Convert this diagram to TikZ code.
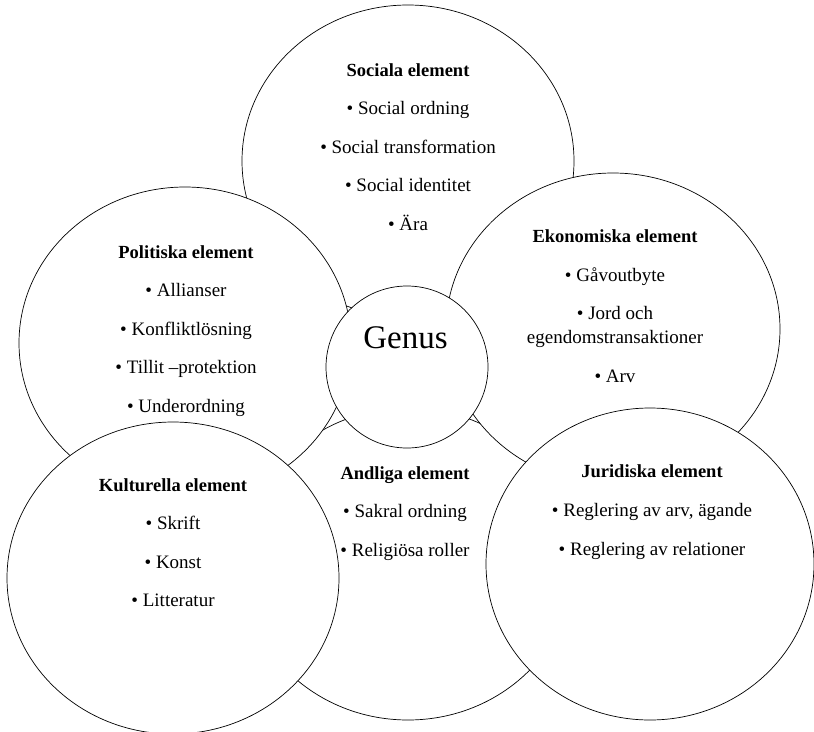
\documentclass[tikz,border=0pt]{standalone}
\usepackage{fontspec}
\setmainfont{Liberation Serif}
\usetikzlibrary{shapes.geometric}

\tikzset{
  bubbla/.style={ellipse, draw, fill=white, line width=0.7pt, inner sep=0pt,
    minimum width=332pt, minimum height=312pt},
  rubrik/.style={anchor=base, inner sep=0pt, font=\bfseries\fontsize{18.5}{22}\selectfont},
  punkt/.style={anchor=base, inner sep=0pt, font=\fontsize{19}{23}\selectfont},
}

\begin{document}
\begin{tikzpicture}[x=1pt,y=-1pt]
\useasboundingbox (0,0) rectangle (814,731);
% bubblorna, bakifraan och fram
\node[bubbla] (soc) at (408,161) {};
\node[bubbla] (andl) at (408,564) {};
\node[bubbla] (pol) at (185,343) {};
\node[bubbla, minimum width=334pt] (eko) at (613,329) {};
\node[bubbla] (kul) at (173,578) {};
\node[bubbla, minimum width=328pt] (jur) at (650,564) {};
\node[circle, draw, fill=white, line width=0.7pt, inner sep=0pt, minimum size=162pt] (genus) at (407,367) {};
\node[anchor=base, inner sep=0pt, font=\fontsize{33}{40}\selectfont] (genus-text) at (405.5,348.7) {Genus};

% sociala
\node[rubrik] (soc-rubrik) at (408,76) {Sociala element};
\foreach \txt [count=\i] in {Social ordning, Social transformation, Social identitet, Ära}
  \node[punkt] (soc-\i) at (408,{76+38.5*\i}) {• \txt};

% politiska
\node[rubrik] (pol-rubrik) at (186,258) {Politiska element};
\foreach \txt [count=\i] in {Allianser, Konfliktlösning, Tillit –protektion, Underordning}
  \node[punkt] (pol-\i) at (186,{258+38.5*\i}) {• \txt};

% ekonomiska
\node[rubrik] (eko-rubrik) at (615,242) {Ekonomiska element};
\node[punkt] (eko-1) at (615,281) {• Gåvoutbyte};
\node[punkt] (eko-2) at (615,319.3) {• Jord och};
\node[punkt] (eko-2b) at (615,343.3) {egendomstransaktioner};
\node[punkt] (eko-3) at (615,382.7) {• Arv};

% kulturella
\node[rubrik] (kul-rubrik) at (173,491) {Kulturella element};
\foreach \txt [count=\i] in {Skrift, Konst, Litteratur}
  \node[punkt] (kul-\i) at (173,{491+38.5*\i}) {• \txt};

% andliga
\node[rubrik] (andl-rubrik) at (405,479.3) {Andliga element};
\foreach \txt [count=\i] in {Sakral ordning, Religiösa roller}
  \node[punkt] (andl-\i) at (405,{479.3+38.5*\i}) {• \txt};

% juridiska
\node[rubrik] (jur-rubrik) at (652,477.7) {Juridiska element};
\foreach \txt [count=\i] in {{Reglering av arv, ägande}, Reglering av relationer}
  \node[punkt] (jur-\i) at (652,{477.7+38.8*\i}) {• \txt};
\end{tikzpicture}
\end{document}
